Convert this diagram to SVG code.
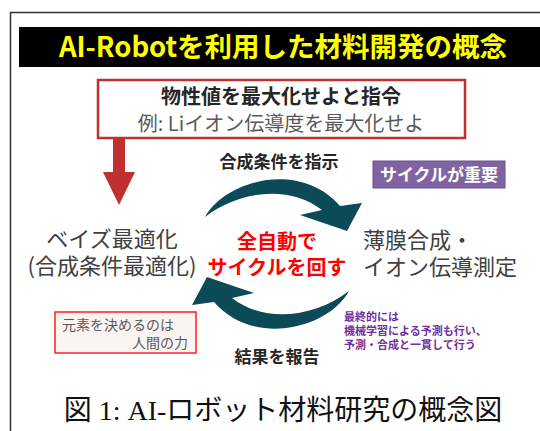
<svg xmlns="http://www.w3.org/2000/svg" width="540" height="431" viewBox="0 0 540 431">
<style>
.jp{font-family:"Noto Sans CJK JP","Noto Sans",sans-serif}
.b{font-weight:bold}
.mid{text-anchor:middle}
.dark{fill:#262626}
.gray{fill:#404040}
.red{fill:#ff0000}
.note{fill:#7030a0;font-size:11px;font-weight:bold}
.cyc{fill:#0c4a58}
</style>
<defs>
<path id="curve" d="M205,217 C225,180 300,160 340,206 L362,203 L347,231 L300,215 L322,210 C290,185 240,190 205,217 Z"/>
</defs>
<rect width="540" height="431" fill="#ffffff"/>
<path d="M10.5,431 V12.5 H540" fill="none" stroke="#333333" stroke-width="1.5"/>
<g id="title">
<rect x="19" y="27" width="521" height="40" fill="#000000"/>
<text class="jp b mid" x="283" y="57" font-size="27.5" fill="#ffff00">AI-Robotを利用した材料開発の概念</text>
</g>
<g id="command">
<rect x="98" y="80" width="367" height="58" fill="#ffffff" stroke="#c0302f" stroke-width="2.5"/>
<text class="jp b mid dark" x="281" y="104" font-size="20">物性値を最大化せよと指令</text>
<text class="jp mid" x="281" y="131" font-size="20" fill="#595959">例: Liイオン伝導度を最大化せよ</text>
</g>
<g id="connectors">
<polygon points="113,139 125,139 125,172 135,172 119,205 103,172 113,172" fill="#c0302f"/>
<use href="#curve" class="cyc"/>
<use href="#curve" class="cyc" transform="rotate(180 277 254)"/>
</g>
<g id="label-instruct">
<text class="jp b mid dark" x="279" y="168" font-size="17">合成条件を指示</text>
</g>
<g id="label-report">
<text class="jp b mid dark" x="277" y="363" font-size="17">結果を報告</text>
</g>
<g id="cycle-important">
<rect x="373" y="161" width="132" height="27" fill="#8064a2" stroke="#6a5090" stroke-width="1"/>
<text class="jp b mid" x="439" y="181" font-size="17" fill="#ffffff">サイクルが重要</text>
</g>
<g id="bayes">
<text class="jp mid gray" x="112" y="247" font-size="22">ベイズ最適化</text>
<text class="jp mid gray" x="112" y="274" font-size="22">(合成条件最適化)</text>
</g>
<g id="auto">
<text class="jp b mid red" x="277" y="249" font-size="20">全自動で</text>
<text class="jp b mid red" x="277" y="275" font-size="20">サイクルを回す</text>
</g>
<g id="synthesis">
<text class="jp gray" x="363" y="248" font-size="22">薄膜合成・</text>
<text class="jp gray" x="363" y="275" font-size="22">イオン伝導測定</text>
</g>
<g id="element-note">
<rect x="55" y="312" width="141" height="41" fill="#faf5f1" stroke="#ff2020" stroke-width="1.5"/>
<text class="jp" x="62" y="330" font-size="14" fill="#595959">元素を決めるのは</text>
<text class="jp" x="188" y="348" font-size="14" fill="#595959" text-anchor="end">人間の力</text>
</g>
<g id="ml-note">
<text class="jp note" x="344" y="321">最終的には</text>
<text class="jp note" x="344" y="335">機械学習による予測も行い、</text>
<text class="jp note" x="344" y="349">予測・合成と一貫して行う</text>
</g>
<g id="caption">
<text x="283" y="420" font-size="28" text-anchor="middle" fill="#111111" font-family="'Liberation Serif','Noto Sans CJK JP',serif">図 1: AI-ロボット材料研究の概念図</text>
</g>
</svg>
